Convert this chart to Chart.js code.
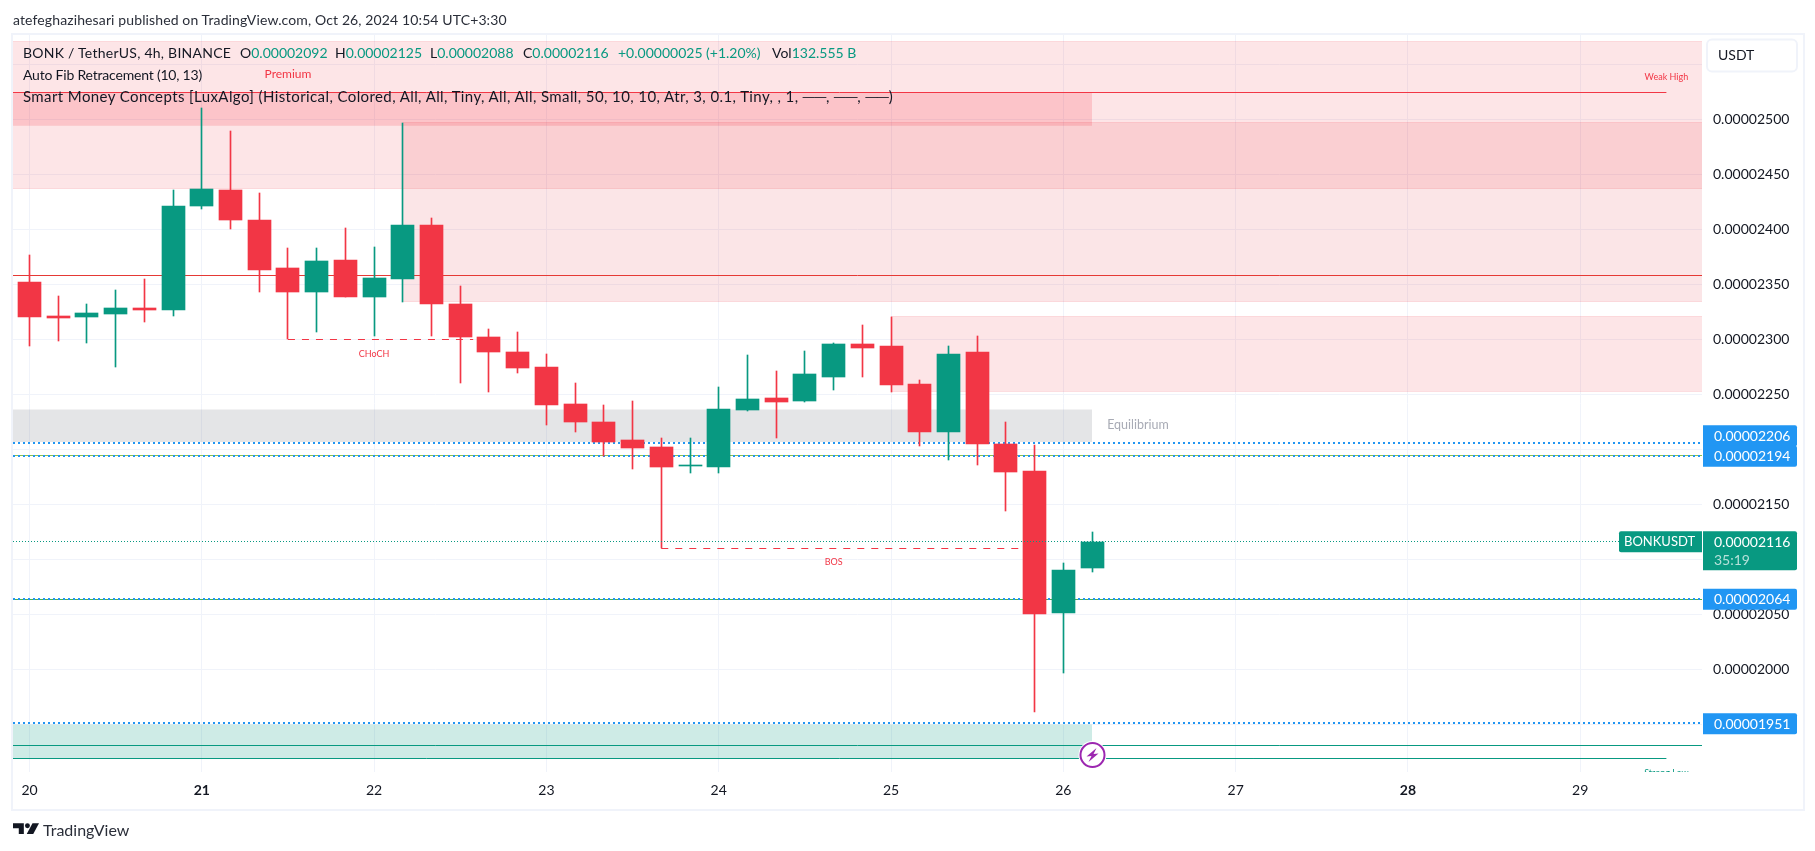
<!DOCTYPE html>
<html>
<head>
<meta charset="utf-8">
<title>BONKUSDT 4h</title>
<script src="https://cdn.jsdelivr.net/npm/chart.js@4"></script>
<style>
    html, body { margin: 0; padding: 0; background: #fff; }
    body { width: 1815px; height: 851px; overflow: hidden; position: relative; font-family: Lato, sans-serif; color: #131722; }
    #frame { position: absolute; left: 11px; top: 33px; width: 1790px; height: 774px; border: 2px solid #f0f3fa; }
    #chart { position: absolute; left: 0; top: 0; }
    .txt { position: absolute; white-space: pre; font-size: 14px; line-height: 18px; }
    .up { color: #089981; }
    #logo { position: absolute; left: 13px; top: 823px; }
</style>
</head>
<body>
<div id="frame"></div>
<canvas id="chart" width="1815" height="851"></canvas>

<div class="txt" style="left:13px;top:11px;color:#2a2e39;letter-spacing:0.12px">atefeghazihesari published on TradingView.com, Oct 26, 2024 10:54 UTC+3:30</div>
<div class="txt" style="left:23px;top:44px;letter-spacing:0.25px">BONK / TetherUS, 4h, BINANCE</div>
<div class="txt" style="left:240px;top:44px">O<span class="up">0.00002092</span></div>
<div class="txt" style="left:335px;top:44px">H<span class="up">0.00002125</span></div>
<div class="txt" style="left:430px;top:44px">L<span class="up">0.00002088</span></div>
<div class="txt" style="left:523px;top:44px">C<span class="up">0.00002116</span></div>
<div class="txt up" style="left:618px;top:44px">+0.00000025 (+1.20%)</div>
<div class="txt" style="left:772px;top:44px">Vol<span class="up">132.555 B</span></div>
<div class="txt" style="left:23px;top:66px;letter-spacing:-0.2px">Auto Fib Retracement (10, 13)</div>
<div class="txt" style="left:23px;top:87px;font-size:15px;letter-spacing:0.4px">Smart Money Concepts [LuxAlgo] (Historical, Colored, All, All, Tiny, All, All, Small, 50, 10, 10, Atr, 3, 0.1, Tiny, , 1, ──, ──, ──)</div>

<svg id="logo" width="26" height="12" viewBox="0 0 36 16">
    <path fill="#131722" d="M0 0h15v15H8V7H0z"/>
    <circle fill="#131722" cx="20" cy="3.6" r="3.4"/>
    <path fill="#131722" d="M27 0h9l-8 15h-9z"/>
</svg>
<div class="txt" style="left:43px;top:819px;font-size:16px;line-height:22px;color:#2a2e39">TradingView</div>

<script>
// prices are in units of 0.00000001 USDT, x is the candle number (0 = the 20th, 00:00)
const opens = [2352, 2321, 2320, 2323, 2328, 2327, 2421, 2436, 2408, 2365, 2343, 2372, 2338, 2355, 2404, 2332, 2302, 2288, 2275,
    2241, 2225, 2208, 2202, 2185, 2184, 2236, 2247, 2244, 2266, 2296, 2294, 2259, 2216, 2288, 2205, 2180, 2051, 2092];
const highs = [2377, 2339, 2332, 2345, 2355, 2436, 2510, 2489, 2433, 2383, 2383, 2401, 2384, 2497, 2410, 2348, 2309, 2307, 2287,
    2260, 2240, 2244, 2210, 2210, 2257, 2286, 2271, 2289, 2297, 2313, 2320, 2263, 2294, 2303, 2225, 2204, 2097, 2125];
const lows = [2294, 2298, 2297, 2275, 2316, 2321, 2418, 2400, 2343, 2300, 2307, 2338, 2303, 2334, 2303, 2260, 2252, 2269, 2222,
    2216, 2194, 2182, 2110, 2178, 2178, 2235, 2210, 2243, 2254, 2266, 2252, 2203, 2190, 2186, 2144, 1961, 1997, 2088];
const closes = [2320, 2319, 2324, 2328, 2327, 2421, 2437, 2408, 2363, 2343, 2371, 2338, 2356, 2404, 2332, 2302, 2288, 2274, 2240,
    2225, 2207, 2201, 2184, 2186, 2237, 2246, 2243, 2268, 2296, 2292, 2258, 2216, 2287, 2205, 2179, 2050, 2090, 2116];

const dayTicks = [0, 6, 12, 18, 24, 30, 36, 42, 48, 54];
const dayLabels = ['20', '21', '22', '23', '24', '25', '26', '27', '28', '29'];
const boldDays = ['21', '28'];
const priceTicks = [1950, 2000, 2050, 2100, 2150, 2200, 2250, 2300, 2350, 2400, 2450, 2500, 2550];
const hiddenPriceLabels = [1950, 2200, 2550];

const xMin = -0.575;
const xMax = 58.24;
const yMin = 1906.6;
const yMax = 2576.6;

// [x from, x to, price top, price bottom]
const premiumZone = [xMin, xMax, 2570.3, 2437];
const swingZone = [13, xMax, 2497.5, 2334.3];
const weakHighBand = [xMin, 37, 2524.5, 2494.2];
const upperZone = [30, xMax, 2320.3, 2252.7];
const equilibriumZone = [xMin, 37, 2236.6, 2206.6];
const discountZone = [xMin, 37, 1949.4, 1918.7];

// [x from, x to, price]
const weakHighLine = [xMin, 57, 2524.5];
const midLine = [xMin, xMax, 2357.8];
const choch = [9, 15.45, 2300];
const bos = [22, 35, 2110];
const fibUpper = [xMin, xMax, 2194.5];
const fibLower = [xMin, xMax, 2063];
const lowLine = [xMin, xMax, 1930.9];
const strongLowLine = [xMin, 57, 1918.7];
const lastPriceLine = [xMin, 55.4, 2116];

const alertPrices = [2206, 2194, 2064, 1951];
const lastPrice = 2116;
const countdown = '35:19';

const chartLabels = [
    { text: 'Premium', x: 9, y: 2541.2, color: '#f23645', size: 12 },
    { text: 'Weak High', x: 57, y: 2538.7, color: '#f23645', size: 9 },
    { text: 'CHoCH', x: 12, y: 2286.6, color: '#f23645', size: 9 },
    { text: 'BOS', x: 28, y: 2097.5, color: '#f23645', size: 9 },
    { text: 'Equilibrium', x: 38.6, y: 2222, color: '#a8abb5', size: 12.5 },
    { text: 'Strong Low', x: 57, y: 1905.5, color: '#089981', size: 9 }
];

const RED = '#f23645';
const TEAL = '#089981';
const BLUE = '#2196f3';
const xs = opens.map((o, i) => i);
const candleColors = opens.map((o, i) => closes[i] >= o ? TEAL : RED);

function fmtPrice(v) {
    return (v / 1e8).toFixed(8);
}

function lineSet(seg, color, width, dash, order) {
    return {
        type: 'line',
        data: [{ x: seg[0], y: seg[2] }, { x: seg[1], y: seg[2] }],
        borderColor: color,
        borderWidth: width,
        borderDash: dash || [],
        pointRadius: 0,
        fill: false,
        order: order
    };
}

// a zone is a line along its top edge filled down to its bottom price, plus a line for the bottom edge
function zoneSets(z, fillColor, edgeColor) {
    const sets = [{
        type: 'line',
        data: [{ x: z[0], y: z[2] }, { x: z[1], y: z[2] }],
        borderColor: edgeColor,
        borderWidth: 1,
        pointRadius: 0,
        backgroundColor: fillColor,
        fill: { value: z[3] },
        order: 30
    }];
    sets.push(lineSet([z[0], z[1], z[3]], edgeColor, 1, [], 30));
    return sets;
}

const zoneFill = 'rgba(242,54,69,0.13)';
const zoneEdge = 'rgba(242,54,69,0.14)';
const flat = 'rgba(0,0,0,0)';

const datasets = [
    ...zoneSets(premiumZone, zoneFill, zoneEdge),
    ...zoneSets(swingZone, 'rgba(225,54,69,0.13)', zoneEdge),
    ...zoneSets(weakHighBand, 'rgba(242,54,69,0.19)', flat),
    ...zoneSets(upperZone, zoneFill, zoneEdge),
    ...zoneSets(equilibriumZone, 'rgba(120,123,134,0.2)', flat),
    ...zoneSets(discountZone, 'rgba(8,153,129,0.2)', flat),
    lineSet(weakHighLine, RED, 1, [], 20),
    lineSet(midLine, '#e53935', 1, [], 20),
    lineSet(choch, RED, 1, [7, 7], 20),
    lineSet(bos, RED, 1, [7, 7], 20),
    lineSet(fibUpper, '#8bc34a', 1, [], 20),
    lineSet(fibLower, '#4caf50', 1, [], 20),
    lineSet(lowLine, TEAL, 1, [], 20),
    lineSet(strongLowLine, TEAL, 1, [], 20),
    ...alertPrices.map(p => lineSet([xMin, xMax, p], BLUE, 2, [2, 3], 15)),
    {
        label: 'wicks',
        data: xs.map(i => ({ x: i, y: [lows[i], highs[i]] })),
        backgroundColor: candleColors,
        barThickness: 1,
        grouped: false,
        order: 3
    },
    {
        label: 'bodies',
        data: xs.map(i => ({ x: i, y: [opens[i], closes[i]] })),
        backgroundColor: candleColors,
        barThickness: 23,
        grouped: false,
        order: 2
    },
    lineSet(lastPriceLine, TEAL, 1, [1, 2], 1)
];

// TradingView draws on whole pixels, so snap what the scales gave us
const snapPlugin = {
    id: 'snap',
    afterDatasetsUpdate(chart) {
        chart.getSortedVisibleDatasetMetas().forEach(meta => {
            const width = chart.data.datasets[meta.index].borderWidth;
            meta.data.forEach(el => {
                if (meta.type === 'bar') {
                    el.x = Math.floor(el.x) + 0.5;
                    el.y = Math.round(el.y);
                    el.base = Math.round(el.base);
                    if (el.y === el.base) el.base = el.y + 1;
                } else if (width === 2) {
                    el.y = Math.round(el.y);
                } else {
                    el.y = Math.floor(el.y) + 0.5;
                }
            });
        });
    }
};

function tag(ctx, x, y, w, h, color, left) {
    ctx.fillStyle = color;
    ctx.beginPath();
    ctx.roundRect(x, y, w, h, left ? [2, 0, 0, 2] : [0, 2, 2, 0]);
    ctx.fill();
}

const overlayPlugin = {
    id: 'overlay',
    afterDraw(chart) {
        const { ctx, chartArea, scales } = chart;
        const xs = scales.x;
        const ys = scales.y;

        // labels sitting on the chart, clipped to the pane
        ctx.save();
        ctx.beginPath();
        ctx.rect(chartArea.left, chartArea.top, chartArea.right - chartArea.left, chartArea.bottom - chartArea.top);
        ctx.clip();
        ctx.textAlign = 'center';
        ctx.textBaseline = 'middle';
        chartLabels.forEach(l => {
            ctx.font = l.size + 'px Lato';
            ctx.fillStyle = l.color;
            ctx.fillText(l.text, xs.getPixelForValue(l.x), ys.getPixelForValue(l.y));
        });
        ctx.restore();

        // the alert at candle 37
        const ix = Math.floor(xs.getPixelForValue(37)) + 0.5;
        const iy = ys.getPixelForValue(1922);
        ctx.save();
        ctx.beginPath();
        ctx.arc(ix, iy, 14, 0, Math.PI * 2);
        ctx.fillStyle = '#fff';
        ctx.fill();
        ctx.beginPath();
        ctx.arc(ix, iy, 12, 0, Math.PI * 2);
        ctx.strokeStyle = '#9c27b0';
        ctx.lineWidth = 2;
        ctx.stroke();
        ctx.beginPath();
        ctx.moveTo(ix + 4, iy - 7);
        ctx.lineTo(ix - 6, iy + 1.5);
        ctx.lineTo(ix - 1, iy + 1);
        ctx.lineTo(ix - 4, iy + 7);
        ctx.lineTo(ix + 6, iy - 1.5);
        ctx.lineTo(ix + 1, iy - 1);
        ctx.closePath();
        ctx.fillStyle = '#9c27b0';
        ctx.fill();
        ctx.restore();

        // price tags on the axis
        const tagX = chartArea.right + 1;
        const tagW = 94;
        ctx.save();
        ctx.textBaseline = 'middle';
        ctx.textAlign = 'left';
        ctx.font = '14px Lato';
        alertPrices.forEach(p => {
            const py = ys.getPixelForValue(p);
            const cy = p === 2206 ? py - 7 : py + 0.5;
            tag(ctx, tagX, cy - 10.5, tagW, 21, BLUE);
            ctx.fillStyle = '#fff';
            ctx.fillText(fmtPrice(p), tagX + 11, cy + 0.5);
        });

        const ly = ys.getPixelForValue(lastPrice);
        tag(ctx, tagX, ly - 10.5, tagW, 39, TEAL);
        ctx.fillStyle = '#fff';
        ctx.fillText(fmtPrice(lastPrice), tagX + 11, ly + 0.5);
        ctx.fillStyle = 'rgba(255,255,255,0.7)';
        ctx.fillText(countdown, tagX + 11, ly + 18.5);
        tag(ctx, chartArea.right - 83, ly - 10.5, 83, 21, TEAL, true);
        ctx.fillStyle = '#fff';
        ctx.font = '13px Lato';
        ctx.fillText('BONKUSDT', chartArea.right - 78, ly + 0.5);
        ctx.font = '14px Lato';

        // currency box at the top of the axis
        ctx.beginPath();
        ctx.roundRect(chartArea.right + 5, 39.5, 90, 32, 5);
        ctx.fillStyle = '#fff';
        ctx.fill();
        ctx.strokeStyle = '#f0f3fa';
        ctx.lineWidth = 2;
        ctx.stroke();
        ctx.fillStyle = '#131722';
        ctx.fillText('USDT', chartArea.right + 16, 55);
        ctx.restore();
    }
};

new Chart(document.getElementById('chart').getContext('2d'), {
    type: 'bar',
    data: { datasets: datasets },
    plugins: [snapPlugin, overlayPlugin],
    options: {
        responsive: false,
        animation: false,
        events: [],
        layout: { padding: { left: 13, top: 35, right: 13, bottom: 43 } },
        plugins: { legend: { display: false }, tooltip: { enabled: false } },
        scales: {
            x: {
                type: 'linear',
                offset: false,
                min: xMin,
                max: xMax,
                border: { display: false },
                grid: { color: '#f0f3fa', offset: false, drawTicks: false, tickLength: 0 },
                afterBuildTicks: scale => { scale.ticks = dayTicks.map(v => ({ value: v })); },
                afterFit: scale => { scale.height = 36; },
                ticks: {
                    autoSkip: false,
                    maxRotation: 0,
                    padding: 10,
                    color: '#131722',
                    font: c => ({ family: 'Lato', size: 14, weight: boldDays.includes(dayLabels[c.index]) ? 'bold' : 'normal' }),
                    callback: (v, i) => dayLabels[i]
                }
            },
            y: {
                position: 'right',
                min: yMin,
                max: yMax,
                border: { display: false },
                grid: { color: '#f0f3fa', drawTicks: false, tickLength: 0 },
                afterBuildTicks: scale => { scale.ticks = priceTicks.map(v => ({ value: v })); },
                afterFit: scale => { scale.width = 100; },
                ticks: {
                    autoSkip: false,
                    padding: 11,
                    color: '#131722',
                    font: { family: 'Lato', size: 14 },
                    callback: v => hiddenPriceLabels.includes(v) ? '' : fmtPrice(v)
                }
            }
        }
    }
});
</script>
</body>
</html>
